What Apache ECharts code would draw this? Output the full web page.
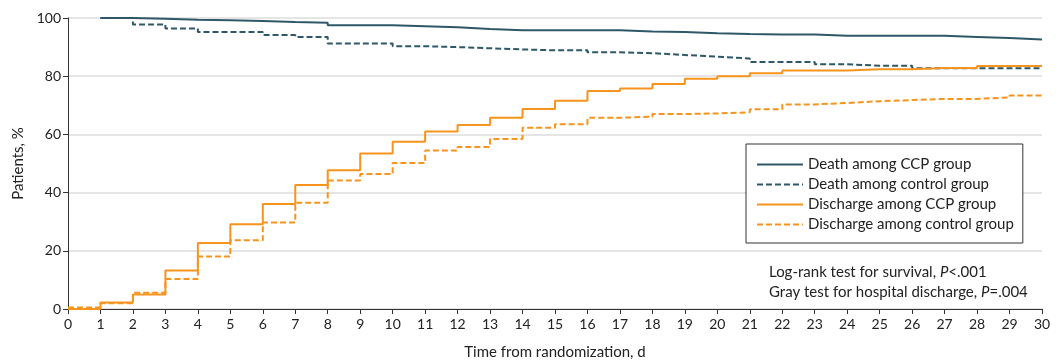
<!DOCTYPE html>
<html>
<head>
<meta charset="utf-8">
<script src="https://cdn.jsdelivr.net/npm/echarts@6/dist/echarts.min.js"></script>
<style>html,body{margin:0;padding:0;background:#fff;}#c{width:1060px;height:362px;}</style>
</head>
<body>
<div id="c"></div>
<script>
const xTicks = [0,1,2,3,4,5,6,7,8,9,10,11,12,13,14,15,16,17,18,19,20,21,22,23,24,25,26,27,28,29,30];
const yTicks = [0,20,40,60,80,100];

const deathDays = [1,2,3,4,5,6,7,8,9,10,11,12,13,14,15,16,17,18,19,20,21,22,23,24,25,26,27,28,29,30];
const deathCCP  = [100,99.7,99.4,99.2,99.0,98.6,98.4,97.5,97.5,97.2,96.8,96.2,95.8,95.8,95.8,95.8,95.4,95.2,94.8,94.5,94.3,94.3,93.9,93.9,93.9,93.9,93.5,93.1,92.6,92.6];
const deathCtrl = [100,97.8,96.4,95.2,95.2,94.2,93.5,91.2,91.2,90.3,90.0,89.6,89.2,88.9,88.9,88.2,87.9,87.3,86.7,86.1,84.9,84.9,84.1,83.6,83.6,82.7,82.7,82.7,82.7,82.7];

const dischDays = [0,1,2,3,4,5,6,7,8,9,10,11,12,13,14,15,16,17,18,19,20,21,22,23,24,25,26,27,28,29,30];
const dischCCP  = [0,2.2,5.0,13.2,22.7,29.1,36.1,42.6,47.7,53.4,57.5,61.0,63.2,65.7,68.7,71.6,74.9,75.8,77.3,79.1,80.0,81.0,82.0,82.0,82.4,82.4,82.8,82.8,83.5,83.5,83.5];
const dischCtrl = [0.5,2.0,5.6,10.3,18.0,23.6,29.7,36.5,44.2,46.4,50.2,54.5,55.7,58.4,62.3,63.5,65.7,66.1,67.0,67.2,67.6,68.6,70.3,70.8,71.4,71.8,72.2,72.2,72.7,73.4,73.4];

const seriesNames = ['Death among CCP group','Death among control group','Discharge among CCP group','Discharge among control group'];
const annotations = ['Log-rank test for survival, ', '<.001', 'Gray test for hospital discharge, ', '=.004'];

const DARK = '#2e5868';
const ORANGE = '#f7941d';
const FONT = 'Lato, "Liberation Sans", sans-serif';

function pairs(xs, ys){ return xs.map((x,i)=>[x, ys[i]]); }

function mk(name, xs, ys, color, dashed){
  return {
    name: name, type: 'line', step: 'end', symbol: 'none', silent: true,
    data: pairs(xs, ys),
    lineStyle: { color: color, width: 2, type: dashed ? [6,3] : 'solid' },
    itemStyle: { color: color },
    animation: false
  };
}

const chart = echarts.init(document.getElementById('c'), null, {renderer: 'canvas'});
chart.setOption({
  animation: false,
  backgroundColor: '#fff',
  grid: { left: 68, right: 18, top: 18, bottom: 53, containLabel: false, outerBoundsMode: 'none' },
  xAxis: {
    type: 'value', min: 0, max: 30, interval: 1,
    name: 'Time from randomization, d', nameLocation: 'middle', nameGap: 36,
    nameTextStyle: { fontFamily: FONT, fontSize: 15, color: '#222' },
    axisLine: { lineStyle: { color: '#333', width: 1 } },
    axisTick: { lineStyle: { color: '#333' }, length: 5 },
    axisLabel: { fontFamily: FONT, fontSize: 14, color: '#222', margin: 8,
      formatter: v => String(xTicks[v]) },
    splitLine: { show: false }
  },
  yAxis: {
    type: 'value', min: 0, max: 100, interval: 20,
    name: 'Patients, %', nameLocation: 'middle', nameGap: 40,
    nameTextStyle: { fontFamily: FONT, fontSize: 15, color: '#222' },
    axisLine: { show: true, lineStyle: { color: '#333', width: 1 } },
    axisTick: { show: true, lineStyle: { color: '#333' }, length: 5 },
    axisLabel: { fontFamily: FONT, fontSize: 14, color: '#222', margin: 7,
      formatter: v => String(yTicks[yTicks.indexOf(v)]) },
    splitLine: { show: true, lineStyle: { color: '#dcdcdc', width: 1.5 } }
  },
  legend: {
    orient: 'vertical', left: 746, top: 144,
    padding: [13, 9, 11, 10], itemGap: 5, itemWidth: 46, itemHeight: 14,
    borderColor: '#333', borderWidth: 1, backgroundColor: '#fff',
    itemStyle: { opacity: 0 },
    textStyle: { fontFamily: FONT, fontSize: 15, color: '#222' },
    data: seriesNames, selectedMode: false
  },
  graphic: [
    { type: 'text', left: 769, top: 265, z: 100,
      style: { rich: { a: { fontFamily: FONT, fontSize: 15, fill: '#222' }, i: { fontFamily: FONT, fontSize: 15, fill: '#222', fontStyle: 'italic' } },
        text: '{a|' + annotations[0] + '}{i|P}{a|' + annotations[1] + '}' } },
    { type: 'text', left: 769, top: 285, z: 100,
      style: { rich: { a: { fontFamily: FONT, fontSize: 15, fill: '#222' }, i: { fontFamily: FONT, fontSize: 15, fill: '#222', fontStyle: 'italic' } },
        text: '{a|' + annotations[2] + '}{i|P}{a|' + annotations[3] + '}' } }
  ],
  series: [
    mk(seriesNames[0], deathDays, deathCCP, DARK, false),
    mk(seriesNames[1], deathDays, deathCtrl, DARK, true),
    mk(seriesNames[2], dischDays, dischCCP, ORANGE, false),
    mk(seriesNames[3], dischDays, dischCtrl, ORANGE, true)
  ]
});
</script>
</body>
</html>
